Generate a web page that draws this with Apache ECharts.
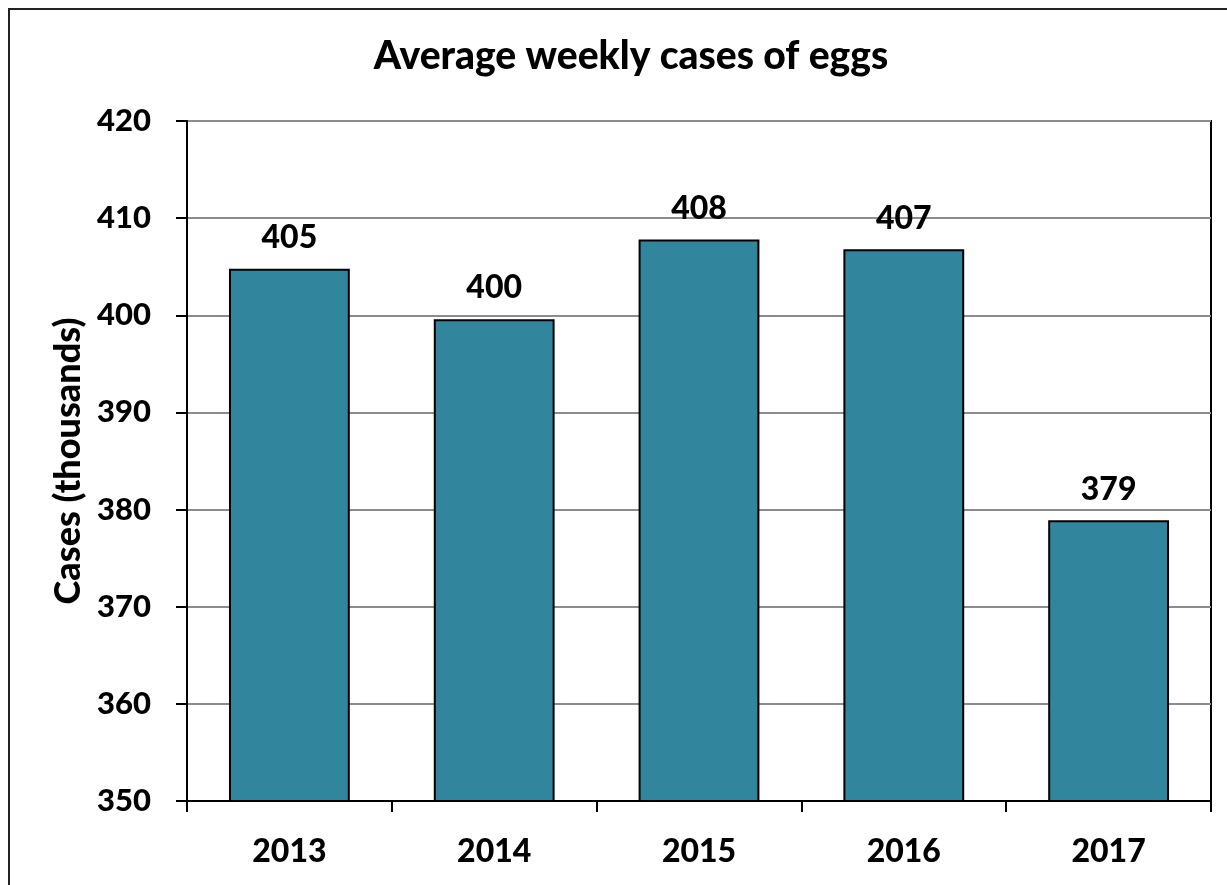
<!DOCTYPE html>
<html>
<head>
<meta charset="utf-8">
<script src="https://cdn.jsdelivr.net/npm/echarts@6/dist/echarts.min.js"></script>
<style>
  html, body { margin: 0; padding: 0; background: #fff; }
  #chart { width: 1227px; height: 885px; }
</style>
</head>
<body>
<div id="chart"></div>
<script>
const years = ["2013", "2014", "2015", "2016", "2017"];
const cases = [404.8, 399.6, 407.8, 406.8, 378.9];
const caseLabels = ["405", "400", "408", "407", "379"];

const font = "Lato";
const chart = echarts.init(document.getElementById("chart"));

const option = {
  backgroundColor: "#fff",
  animation: false,
  title: {
    text: "Average weekly cases of eggs",
    left: 626,
    textAlign: "center",
    top: 32,
    textStyle: { fontFamily: font, fontWeight: 900, fontSize: 39, color: "#000" }
  },
  graphic: [
    {
      type: "rect",
      shape: { x: 9, y: 9, width: 1400, height: 1000 },
      style: { fill: "none", stroke: "#222", lineWidth: 2 },
      silent: true
    }
  ],
  grid: {
    left: 187, right: 16, top: 121, bottom: 84,
    show: true, borderColor: "#000", borderWidth: 2, backgroundColor: "transparent"
  },
  xAxis: {
    type: "category",
    data: years,
    axisLine: { lineStyle: { color: "#000", width: 2 } },
    axisTick: { show: true, alignWithLabel: false, length: 11, lineStyle: { color: "#000", width: 2 } },
    axisLabel: { fontFamily: font, fontWeight: 900, fontSize: 32, color: "#000", margin: 35 }
  },
  yAxis: {
    type: "value",
    min: 350, max: 420, interval: 10,
    name: "Cases (thousands)",
    nameLocation: "middle",
    nameGap: 101,
    nameTextStyle: { fontFamily: font, fontWeight: 900, fontSize: 36, color: "#000" },
    axisLine: { show: true, lineStyle: { color: "#000", width: 2 } },
    axisTick: { show: true, length: 11, lineStyle: { color: "#000", width: 2 } },
    axisLabel: { fontFamily: font, fontWeight: 900, fontSize: 31, color: "#000", margin: 36 },
    splitLine: { show: true, lineStyle: { color: "#8c8c8c", width: 2 } }
  },
  series: [
    {
      type: "bar",
      data: cases,
      barWidth: "59%",
      itemStyle: { color: "#31869e", borderColor: "#000", borderWidth: 2 },
      label: {
        show: true,
        position: "top",
        distance: 15,
        formatter: (p) => caseLabels[p.dataIndex],
        fontFamily: font, fontWeight: 900, fontSize: 32, color: "#000"
      }
    }
  ]
};

chart.setOption(option);
</script>
</body>
</html>
